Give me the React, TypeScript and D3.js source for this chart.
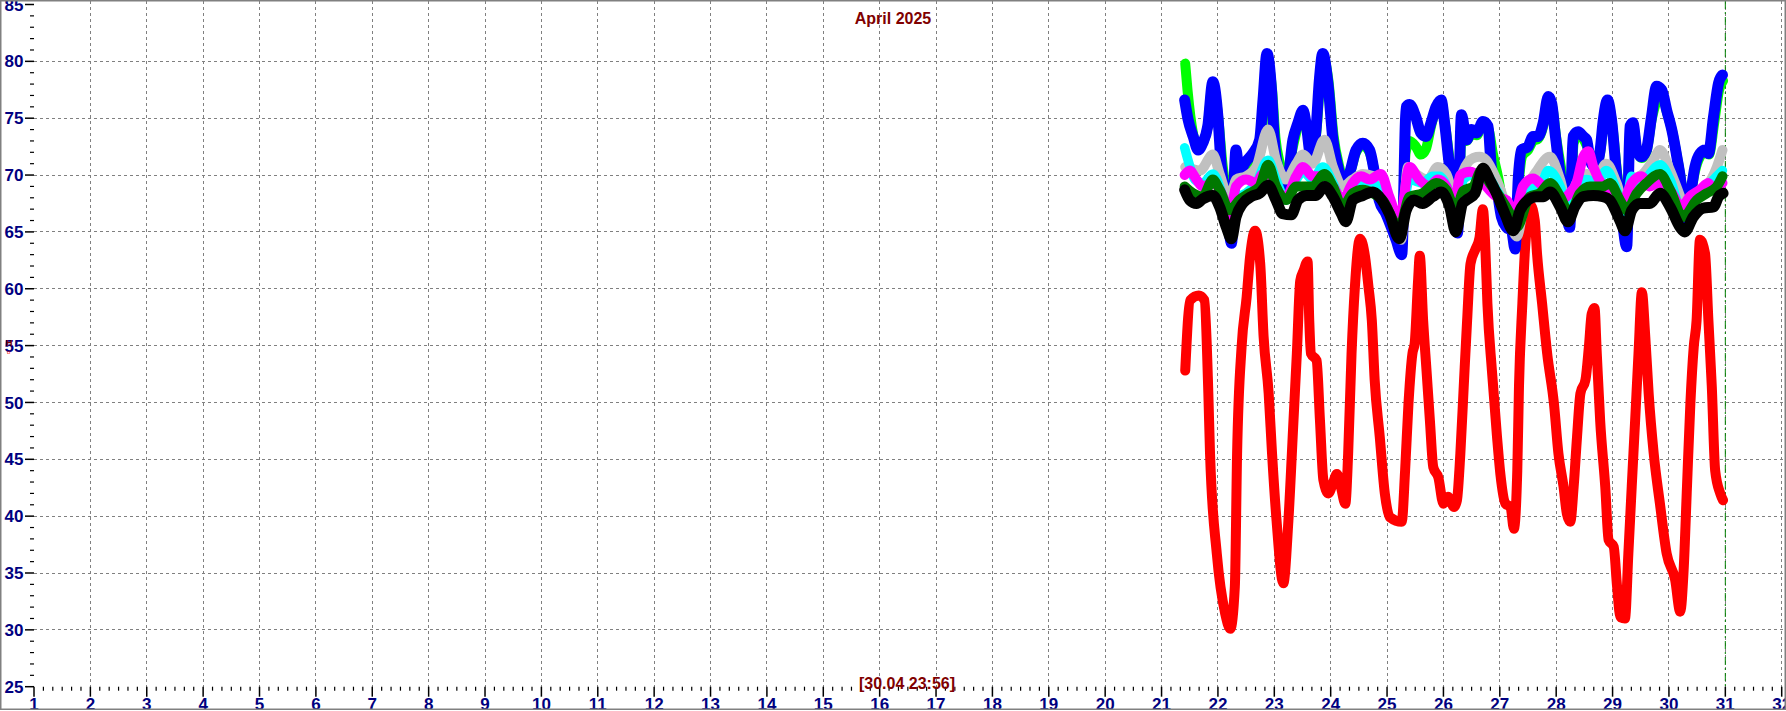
import React from "react";
import * as d3 from "d3";

const W = 1786;
const H = 711;

const dayTicks = d3.range(1, 33);
const valueTicks = d3.range(25, 90, 5);
const titleText = "April 2025";
const cursorText = "[30.04 23:56]";
const cursorDay = 31;

const red: [number, number][] = [
  [21.42, 52.8], [21.51, 59.0], [21.66, 59.4], [21.76, 59.0], [21.83, 50.8], [21.86, 45.5], [21.98, 36.7], [22.13, 31.4], [22.22, 30.1], [22.3, 33.8],
  [22.34, 45.5], [22.42, 54.9], [22.51, 59.3], [22.57, 62.8], [22.66, 65.1], [22.75, 62.2], [22.81, 55.8], [22.9, 50.8], [22.96, 45.5], [23.04, 39.6],
  [23.16, 34.1], [23.25, 39.6], [23.34, 48.4], [23.4, 54.3], [23.46, 60.7], [23.52, 61.6], [23.59, 62.4], [23.62, 57.2], [23.65, 54.3], [23.75, 53.7],
  [23.81, 48.4], [23.87, 43.2], [23.96, 42.0], [24.02, 42.6], [24.11, 43.7], [24.18, 42.6], [24.26, 41.1], [24.31, 45.5], [24.37, 54.3], [24.43, 60.2],
  [24.52, 64.4], [24.61, 62.8], [24.67, 60.2], [24.73, 57.2], [24.78, 52.0], [24.87, 47.0], [24.96, 42.0], [25.05, 39.9], [25.26, 39.5], [25.32, 44.0],
  [25.38, 49.9], [25.45, 54.3], [25.49, 55.2], [25.55, 60.7], [25.58, 62.9], [25.64, 57.2], [25.7, 52.8], [25.76, 48.4], [25.82, 44.3], [25.91, 43.4],
  [26.0, 41.1], [26.08, 41.7], [26.19, 40.8], [26.24, 41.4], [26.3, 45.5], [26.36, 51.4], [26.42, 57.2], [26.48, 62.2], [26.57, 63.5], [26.64, 64.5],
  [26.7, 67.0], [26.74, 64.0], [26.78, 58.7], [26.86, 52.8], [26.95, 47.0], [27.01, 43.7], [27.1, 41.1], [27.19, 40.8], [27.25, 38.9], [27.31, 44.0],
  [27.34, 51.4], [27.4, 58.7], [27.45, 63.7], [27.55, 67.3], [27.62, 66.0], [27.66, 63.1], [27.75, 58.7], [27.84, 54.3], [27.96, 49.9], [28.04, 45.5],
  [28.13, 42.6], [28.19, 40.2], [28.25, 39.5], [28.31, 42.6], [28.37, 47.0], [28.43, 50.8], [28.52, 52.0], [28.58, 54.9], [28.63, 57.8], [28.68, 58.3],
  [28.72, 54.3], [28.78, 48.4], [28.87, 42.6], [28.93, 37.9], [29.02, 37.3], [29.08, 33.8], [29.14, 31.1], [29.22, 31.0], [29.28, 36.7], [29.34, 42.6],
  [29.4, 48.4], [29.46, 54.3], [29.52, 59.7], [29.58, 55.8], [29.64, 50.8], [29.73, 45.5], [29.84, 41.1], [29.96, 36.7], [30.11, 34.4], [30.2, 31.6],
  [30.26, 35.2], [30.32, 42.6], [30.38, 49.9], [30.44, 54.9], [30.49, 57.2], [30.55, 64.3], [30.64, 63.1], [30.7, 57.2], [30.76, 51.4], [30.82, 44.0],
  [30.91, 42.0], [30.96, 41.4],
];

const lime: [number, number][] = [
  [21.42, 79.8], [21.46, 77.5], [21.56, 73.6], [21.65, 72.4], [21.73, 72.8], [21.82, 74.3], [21.91, 78.0], [22.0, 75.3], [22.08, 71.0], [22.17, 67.8],
  [22.26, 65.0], [22.32, 71.5], [22.4, 70.0], [22.5, 70.8], [22.65, 71.5], [22.75, 72.0], [22.81, 75.8], [22.87, 80.0], [22.96, 77.5], [23.02, 73.3],
  [23.1, 71.0], [23.21, 69.5], [23.33, 72.5], [23.42, 74.3], [23.51, 75.3], [23.58, 74.0], [23.66, 71.5], [23.75, 74.0], [23.81, 78.0], [23.87, 80.3],
  [23.96, 78.3], [24.05, 73.5], [24.14, 71.0], [24.22, 69.8], [24.33, 70.1], [24.45, 72.0], [24.57, 72.6], [24.69, 72.0], [24.79, 70.0], [24.87, 68.0],
  [25.0, 66.8], [25.16, 64.8], [25.26, 64.5], [25.33, 72.0], [25.4, 73.0], [25.51, 72.5], [25.6, 71.8], [25.69, 72.3], [25.78, 74.3], [25.87, 75.8],
  [25.96, 76.4], [26.03, 74.4], [26.12, 71.0], [26.2, 68.8], [26.26, 66.0], [26.33, 74.8], [26.41, 73.0], [26.5, 73.6], [26.59, 73.5], [26.7, 74.5],
  [26.8, 74.0], [26.88, 71.8], [26.97, 69.8], [27.06, 67.3], [27.15, 65.8], [27.22, 65.2], [27.28, 64.5], [27.34, 69.5], [27.4, 71.7], [27.5, 72.2],
  [27.59, 73.0], [27.68, 73.2], [27.77, 74.3], [27.86, 76.6], [27.93, 76.0], [28.0, 73.3], [28.09, 70.5], [28.17, 68.0], [28.24, 66.0], [28.31, 72.8],
  [28.39, 73.5], [28.48, 73.2], [28.55, 72.5], [28.61, 71.8], [28.7, 70.8], [28.78, 72.0], [28.84, 74.4], [28.92, 76.3], [28.99, 74.6], [29.08, 70.2],
  [29.17, 67.0], [29.25, 65.0], [29.31, 73.5], [29.37, 74.2], [29.44, 72.0], [29.52, 71.5], [29.6, 72.0], [29.69, 74.8], [29.78, 76.5], [29.87, 77.2],
  [29.96, 75.6], [30.06, 73.8], [30.15, 71.4], [30.23, 69.0], [30.29, 66.0], [30.37, 67.8], [30.46, 70.3], [30.55, 71.6], [30.64, 72.0], [30.71, 71.8],
  [30.8, 74.5], [30.89, 77.5], [30.96, 78.3],
];

const blue: [number, number][] = [
  [21.41, 76.6], [21.47, 74.9], [21.56, 73.4], [21.65, 72.2], [21.73, 72.8], [21.82, 74.3], [21.91, 78.2], [22.0, 75.1], [22.06, 70.7], [22.15, 67.8],
  [22.24, 64.0], [22.32, 72.2], [22.38, 70.1], [22.47, 71.0], [22.62, 71.9], [22.74, 73.1], [22.8, 76.6], [22.87, 80.7], [22.95, 77.5], [23.0, 73.1],
  [23.09, 70.1], [23.21, 68.7], [23.33, 73.1], [23.42, 74.6], [23.51, 75.7], [23.57, 74.3], [23.65, 71.6], [23.74, 74.0], [23.8, 78.4], [23.86, 80.7],
  [23.95, 78.1], [24.04, 73.1], [24.13, 70.7], [24.21, 69.3], [24.33, 70.1], [24.45, 72.2], [24.57, 72.8], [24.69, 72.2], [24.78, 70.1], [24.86, 67.8],
  [24.98, 66.6], [25.16, 64.3], [25.26, 63.0], [25.34, 76.0], [25.4, 76.2], [25.51, 75.1], [25.6, 73.7], [25.69, 73.4], [25.78, 74.6], [25.87, 76.0],
  [25.96, 76.6], [26.02, 74.6], [26.11, 70.7], [26.19, 68.7], [26.25, 64.9], [26.32, 75.3], [26.41, 73.1], [26.5, 74.0], [26.59, 73.7], [26.7, 74.7],
  [26.79, 74.3], [26.85, 70.7], [26.94, 69.0], [27.03, 66.3], [27.12, 65.4], [27.21, 65.1], [27.27, 63.5], [27.33, 69.9], [27.38, 72.2], [27.5, 72.5],
  [27.59, 73.4], [27.68, 73.4], [27.77, 74.6], [27.86, 76.9], [27.92, 76.3], [27.98, 73.7], [28.07, 70.1], [28.15, 67.8], [28.24, 65.4], [28.3, 73.4],
  [28.39, 73.8], [28.48, 73.4], [28.54, 73.1], [28.6, 71.3], [28.69, 70.7], [28.78, 72.2], [28.83, 74.6], [28.91, 76.6], [28.98, 74.9], [29.07, 70.1],
  [29.16, 66.6], [29.25, 63.7], [29.31, 74.3], [29.36, 74.6], [29.43, 72.2], [29.51, 71.6], [29.6, 72.2], [29.69, 75.1], [29.78, 77.8], [29.87, 77.5],
  [29.96, 75.7], [30.05, 74.0], [30.14, 71.6], [30.22, 69.0], [30.28, 65.4], [30.37, 67.8], [30.46, 70.7], [30.55, 71.9], [30.64, 72.2], [30.7, 71.9],
  [30.79, 75.1], [30.88, 78.1], [30.95, 78.8],
];

const silver: [number, number][] = [
  [21.42, 70.7], [21.68, 70.4], [21.91, 71.8], [22.03, 70.1], [22.21, 67.8], [22.32, 69.6], [22.5, 69.9], [22.68, 70.7], [22.89, 74.0], [23.03, 71.3],
  [23.21, 69.6], [23.39, 71.0], [23.51, 71.8], [23.68, 71.0], [23.89, 73.1], [24.04, 70.7], [24.21, 69.0], [24.39, 69.6], [24.57, 70.1], [24.75, 69.9],
  [24.92, 68.4], [25.1, 66.0], [25.25, 64.3], [25.37, 70.7], [25.51, 70.1], [25.72, 69.6], [25.9, 70.7], [26.05, 70.1], [26.22, 67.8], [26.34, 70.2],
  [26.53, 71.5], [26.64, 71.6], [26.76, 71.3], [26.94, 69.6], [27.12, 67.2], [27.3, 64.6], [27.47, 68.7], [27.65, 70.3], [27.89, 71.6], [28.07, 69.6],
  [28.21, 67.2], [28.36, 69.3], [28.54, 70.1], [28.72, 69.9], [28.89, 71.0], [29.07, 69.3], [29.22, 67.2], [29.37, 69.6], [29.54, 70.1], [29.72, 71.3],
  [29.84, 72.2], [30.02, 70.4], [30.2, 68.1], [30.31, 66.6], [30.49, 68.4], [30.67, 69.0], [30.85, 70.7], [30.95, 72.2],
];

const cyan: [number, number][] = [
  [21.41, 72.4], [21.47, 71.3], [21.59, 69.6], [21.73, 69.3], [21.91, 70.1], [22.09, 68.1], [22.24, 66.0], [22.38, 68.1], [22.5, 68.4], [22.68, 69.3],
  [22.89, 71.3], [23.03, 69.6], [23.21, 67.8], [23.39, 69.6], [23.51, 70.3], [23.68, 69.6], [23.86, 70.7], [24.04, 69.3], [24.24, 67.2], [24.45, 68.7],
  [24.57, 69.3], [24.75, 69.3], [24.92, 68.1], [25.22, 65.4], [25.4, 69.6], [25.63, 69.3], [25.81, 69.9], [25.93, 69.9], [26.16, 68.1], [26.28, 67.8],
  [26.35, 69.6], [26.53, 70.1], [26.7, 70.3], [26.94, 68.7], [27.18, 66.6], [27.3, 65.4], [27.53, 68.7], [27.71, 69.0], [27.86, 70.4], [28.07, 69.0],
  [28.24, 66.6], [28.36, 69.0], [28.54, 69.6], [28.72, 69.3], [28.89, 70.4], [29.07, 68.7], [29.22, 66.6], [29.34, 69.9], [29.51, 69.0], [29.66, 70.1],
  [29.84, 70.9], [30.02, 69.6], [30.25, 66.6], [30.49, 68.4], [30.67, 69.0], [30.85, 69.9], [30.95, 70.4],
];

const magenta: [number, number][] = [
  [21.41, 70.0], [21.5, 70.4], [21.62, 69.6], [21.73, 69.0], [21.91, 69.3], [22.09, 68.1], [22.21, 66.3], [22.32, 69.0], [22.5, 69.6], [22.68, 69.3],
  [22.8, 70.1], [22.92, 69.9], [23.09, 68.4], [23.21, 68.1], [23.39, 69.9], [23.51, 70.7], [23.68, 69.9], [23.86, 69.9], [24.04, 69.0], [24.21, 67.8],
  [24.39, 69.3], [24.54, 69.9], [24.69, 69.6], [24.89, 70.1], [25.04, 68.1], [25.22, 66.0], [25.4, 70.7], [25.57, 69.6], [25.75, 69.0], [25.9, 69.6],
  [26.05, 69.0], [26.19, 67.2], [26.3, 70.0], [26.47, 70.3], [26.62, 69.9], [26.76, 69.0], [26.94, 68.1], [27.12, 67.8], [27.27, 66.6], [27.41, 69.0],
  [27.59, 69.7], [27.77, 69.0], [27.89, 68.7], [28.07, 67.8], [28.24, 68.4], [28.36, 69.3], [28.48, 71.6], [28.57, 72.1], [28.66, 70.7], [28.83, 69.0],
  [29.01, 68.1], [29.19, 67.8], [29.34, 69.3], [29.51, 69.9], [29.66, 69.0], [29.81, 69.3], [30.02, 68.7], [30.22, 67.2], [30.37, 68.1], [30.55, 68.7],
  [30.7, 69.3], [30.79, 68.7], [30.95, 69.3],
];

const darkGreen: [number, number][] = [
  [21.41, 69.0], [21.56, 68.4], [21.73, 68.1], [21.91, 69.6], [22.03, 68.7], [22.21, 66.9], [22.38, 67.8], [22.56, 68.4], [22.74, 69.0], [22.89, 70.9],
  [23.03, 69.0], [23.21, 67.8], [23.39, 69.0], [23.51, 69.0], [23.68, 69.0], [23.89, 70.1], [24.04, 69.0], [24.21, 67.2], [24.39, 68.4], [24.57, 68.7],
  [24.75, 68.4], [24.92, 67.8], [25.22, 65.4], [25.4, 68.1], [25.63, 68.4], [25.87, 69.3], [26.05, 68.7], [26.22, 66.9], [26.35, 68.6], [26.53, 69.0],
  [26.67, 70.4], [26.82, 69.3], [27.0, 68.1], [27.18, 66.6], [27.3, 65.4], [27.53, 68.1], [27.71, 68.4], [27.89, 69.3], [28.07, 68.1], [28.24, 66.6],
  [28.42, 68.4], [28.6, 69.0], [28.83, 69.0], [28.95, 69.3], [29.13, 67.8], [29.25, 66.9], [29.43, 68.4], [29.6, 69.3], [29.84, 70.1], [30.02, 68.7],
  [30.25, 66.3], [30.49, 67.8], [30.67, 68.4], [30.85, 69.0], [30.95, 69.9],
];

const black: [number, number][] = [
  [21.41, 68.7], [21.5, 67.8], [21.62, 67.5], [21.73, 67.9], [21.91, 68.2], [22.03, 67.2], [22.15, 65.4], [22.24, 64.4], [22.32, 66.3], [22.44, 67.5],
  [22.59, 68.1], [22.74, 68.4], [22.89, 69.1], [23.03, 67.8], [23.15, 66.6], [23.3, 66.5], [23.42, 67.8], [23.57, 68.2], [23.74, 68.2], [23.89, 69.0],
  [24.04, 68.1], [24.19, 66.6], [24.27, 65.9], [24.39, 67.8], [24.57, 68.2], [24.75, 68.5], [24.86, 68.1], [25.04, 66.6], [25.22, 64.4], [25.34, 66.9],
  [25.48, 67.8], [25.63, 67.5], [25.81, 68.1], [25.96, 68.5], [26.11, 67.2], [26.22, 65.0], [26.34, 67.5], [26.41, 67.8], [26.56, 68.4], [26.7, 70.6],
  [26.82, 69.6], [26.94, 68.4], [27.09, 66.6], [27.24, 65.1], [27.36, 66.9], [27.5, 67.8], [27.65, 68.1], [27.77, 68.1], [27.89, 68.5], [28.07, 67.2],
  [28.21, 65.9], [28.33, 67.2], [28.48, 68.1], [28.66, 68.2], [28.83, 68.1], [28.95, 67.8], [29.13, 66.0], [29.22, 65.1], [29.34, 66.9], [29.49, 67.5],
  [29.66, 67.5], [29.84, 68.4], [30.02, 67.2], [30.2, 65.4], [30.28, 65.0], [30.43, 66.3], [30.61, 67.1], [30.79, 67.2], [30.88, 68.1], [30.96, 68.4],
];

const seriesList: { name: string; data: [number, number][]; color: string; width: number }[] = [
  { name: "red", data: red, color: "#ff0000", width: 10 },
  { name: "lime", data: lime, color: "#00ff00", width: 10 },
  { name: "blue", data: blue, color: "#0000ff", width: 11 },
  { name: "silver", data: silver, color: "#c0c0c0", width: 10 },
  { name: "cyan", data: cyan, color: "#00ffff", width: 9.5 },
  { name: "magenta", data: magenta, color: "#ff00ff", width: 10 },
  { name: "darkGreen", data: darkGreen, color: "#007800", width: 10 },
  { name: "black", data: black, color: "#000000", width: 11 },
];

export default function App() {
  const x = d3.scaleLinear().domain([1, 32]).range([34, 1781.7]);
  const y = d3.scaleLinear().domain([25, 85]).range([686.7, 4.5]);
  const line = d3
    .line<[number, number]>()
    .x((d) => x(d[0]))
    .y((d) => y(d[1]))
    .curve(d3.curveMonotoneX);

  const minorY = d3.range(25, 86, 1).filter((v) => v % 5 !== 0);
  const minorX = d3.range(1, 32).flatMap((d) => [1, 2, 3, 4, 5].map((k) => d + k / 6));
  const axisY = y(25);
  const navy = "#000080";
  const font = "Arial, 'Liberation Sans', sans-serif";

  return (
    <svg
      width={W}
      height={H}
      style={{ position: "absolute", left: 0, top: 0, display: "block", background: "#fff" }}
      fontFamily={font}
    >
      <rect x={0} y={0} width={W} height={H} fill="#ffffff" />
      {/* grid */}
      {dayTicks.filter((d) => d > 1).map((d) => (
        <line key={"gx" + d} x1={x(d)} x2={x(d)} y1={1} y2={axisY} stroke="#808080" strokeWidth={1} strokeDasharray="3,3" shapeRendering="crispEdges" />
      ))}
      {valueTicks.filter((v) => v > 25 && v < 85).map((v) => (
        <line key={"gy" + v} x1={x(1)} x2={W} y1={y(v)} y2={y(v)} stroke="#808080" strokeWidth={1} strokeDasharray="3,3" shapeRendering="crispEdges" />
      ))}
      {/* y ticks */}
      {valueTicks.map((v) => (
        <g key={"ty" + v}>
          <line x1={25} x2={34} y1={y(v)} y2={y(v)} stroke="#000" strokeWidth={1.5} />
          <text x={23.5} y={y(v)} dy="0.36em" textAnchor="end" fontSize={17} fontWeight="bold" fill={navy}>
            {v}
          </text>
        </g>
      ))}
      {minorY.map((v) => (
        <line key={"my" + v} x1={30} x2={34} y1={y(v)} y2={y(v)} stroke="#000" strokeWidth={1.2} />
      ))}
      {/* x ticks */}
      {dayTicks.map((d) => (
        <g key={"tx" + d}>
          <line x1={x(d)} x2={x(d)} y1={axisY} y2={axisY + 10} stroke="#000" strokeWidth={1.5} />
          <text x={x(d)} y={709.5} textAnchor="middle" fontSize={17} fontWeight="bold" fill={navy}>
            {d}
          </text>
        </g>
      ))}
      {minorX.map((d, i) => (
        <line key={"mx" + i} x1={x(d)} x2={x(d)} y1={axisY} y2={axisY + 4} stroke="#000" strokeWidth={1.2} />
      ))}
      {/* cursor line */}
      <line x1={x(cursorDay)} x2={x(cursorDay)} y1={1} y2={axisY} stroke="#008000" strokeWidth={1} strokeDasharray="8,3,2,3" />
      {/* series */}
      {seriesList.map((s) => (
        <path
          key={s.name}
          d={line(s.data) || ""}
          fill="none"
          stroke={s.color}
          strokeWidth={s.width}
          strokeLinejoin="round"
          strokeLinecap="round"
        />
      ))}
      {/* texts */}
      <text x={893} y={24} textAnchor="middle" fontSize={16} fontWeight="bold" fill="#800000">
        {titleText}
      </text>
      <text x={907} y={688.5} textAnchor="middle" fontSize={16} fontWeight="bold" fill="#800000">
        {cursorText}
      </text>
      <text x={6} y={346} fontSize={9} fontWeight="bold" fill="#800000">
        H
      </text>
      <text x={7} y={354} fontSize={6} fill="#ff0000">
        o
      </text>
      {/* frame */}
      <rect x={0.75} y={0.75} width={W - 1.5} height={708.5} fill="none" stroke="#808080" strokeWidth={1.5} />
    </svg>
  );
}
